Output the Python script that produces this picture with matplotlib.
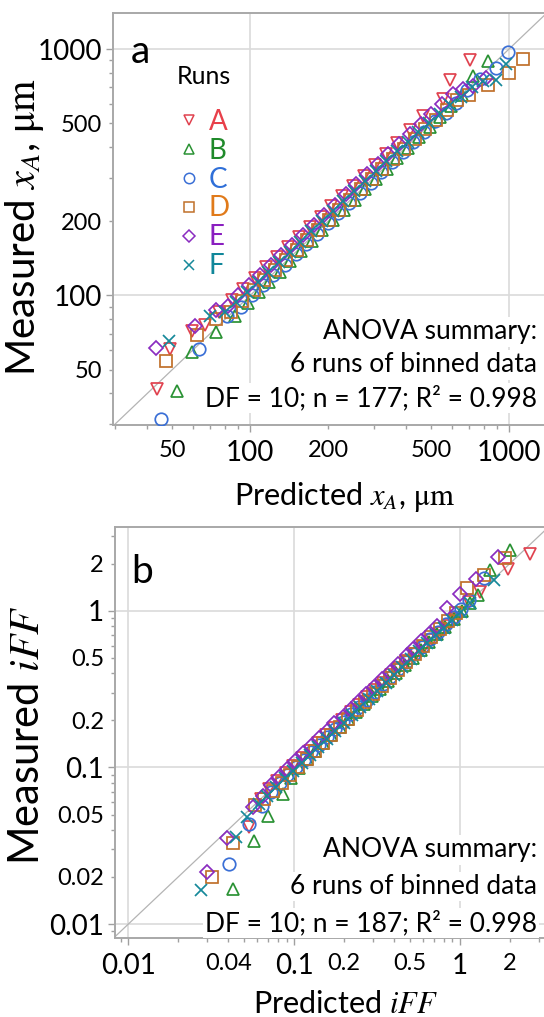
import matplotlib
matplotlib.use('Agg')
import matplotlib.pyplot as plt
from matplotlib.lines import Line2D
from matplotlib.ticker import FixedLocator, FuncFormatter

plt.rcParams['font.family'] = ['Lato', 'DejaVu Sans']
plt.rcParams['mathtext.fontset'] = 'stix'

runs = ['A', 'B', 'C', 'D', 'E', 'F']
markers = ['v', '^', 'o', 's', 'D', 'x']
mark_colors = ['#e0424f', '#2a9234', '#3a6fd6', '#c0702a', '#8a2cc0', '#16899a']
text_colors = ['#e8404a', '#1f8a2a', '#2f6fd8', '#e07a1a', '#8a1fc0', '#10879a']

# panel a: predicted vs measured x_A (um)
a_pred = {
    'A': [43.6, 49.1, 59.8, 67, 76, 85, 94, 104, 115, 127, 140, 154, 170, 187, 206, 227, 250, 275, 303, 334, 368, 413, 465, 556, 590, 705],
    'B': [52.0, 59.7, 73.5, 87.0, 97.9, 108, 118, 130, 143, 157, 173, 190, 209, 230, 253, 278, 306, 337, 370, 407, 448, 493, 542, 596, 656, 726, 829],
    'C': [45.3, 63.2, 81.2, 92, 102, 112, 123, 136, 150, 165, 181, 199, 219, 241, 265, 292, 321, 353, 388, 427, 470, 517, 569, 626, 690, 770, 893, 991],
    'D': [47.3, 62.2, 73.9, 84, 93, 103, 113, 125, 137, 151, 166, 183, 201, 221, 243, 268, 295, 324, 357, 392, 432, 475, 522, 575, 632, 700, 829, 1000, 1132],
    'E': [43.3, 61.4, 73.9, 82, 90, 99, 109, 120, 132, 145, 160, 176, 193, 212, 234, 257, 283, 311, 342, 376, 414, 455, 501, 551, 606, 667, 726, 818],
    'F': [48.4, 69.7, 80, 88, 97, 107, 117, 129, 142, 156, 172, 189, 208, 229, 252, 277, 305, 335, 369, 406, 446, 491, 540, 594, 653, 719, 791, 893, 977],
}
a_meas = {
    'A': [41.9, 60.4, 71.7, 76, 86, 96, 106, 118, 130, 143, 157, 172, 190, 209, 230, 253, 278, 305, 338, 375, 415, 468, 537, 627, 751, 899],
    'B': [40.9, 58.9, 71.0, 82.4, 92.8, 103, 113, 125, 138, 152, 167, 184, 202, 222, 245, 270, 297, 327, 360, 397, 438, 483, 532, 588, 652, 774, 891],
    'C': [31.6, 60.4, 82.4, 90, 100, 110, 121, 133, 147, 162, 178, 196, 216, 237, 261, 287, 316, 347, 382, 420, 462, 508, 548, 604, 680, 757, 837, 968],
    'D': [54.2, 68.8, 80.0, 86, 95, 105, 115, 127, 139, 153, 168, 185, 203, 223, 245, 270, 296, 325, 358, 392, 431, 472, 517, 567, 622, 650, 716, 800, 914],
    'E': [61.4, 75.1, 87.0, 91, 100, 110, 121, 133, 146, 160, 176, 193, 212, 233, 257, 282, 310, 341, 374, 411, 452, 497, 546, 600, 658, 690, 705, 763],
    'F': [65.3, 82.4, 86, 94, 103, 113, 124, 137, 150, 165, 182, 200, 220, 241, 265, 291, 320, 350, 384, 420, 460, 503, 545, 590, 640, 700, 740, 751, 871],
}

# panel b: predicted vs measured iFF
b_pred = {
    'A': [0.0318, 0.0535, 0.063, 0.071, 0.079, 0.089, 0.099, 0.111, 0.124, 0.139, 0.156, 0.174, 0.195, 0.219, 0.245, 0.274, 0.307, 0.344, 0.385, 0.431, 0.483, 0.541, 0.605, 0.678, 0.759, 0.850, 0.952, 1.13, 1.33, 1.94, 2.66],
    'B': [0.0428, 0.0572, 0.0697, 0.0859, 0.096, 0.107, 0.120, 0.134, 0.150, 0.168, 0.188, 0.210, 0.235, 0.263, 0.295, 0.330, 0.370, 0.414, 0.464, 0.520, 0.582, 0.652, 0.730, 0.818, 0.916, 1.03, 1.15, 1.29, 1.52, 2.01],
    'C': [0.0404, 0.0535, 0.0637, 0.073, 0.082, 0.091, 0.102, 0.114, 0.127, 0.142, 0.158, 0.177, 0.197, 0.220, 0.246, 0.274, 0.306, 0.342, 0.381, 0.425, 0.475, 0.530, 0.591, 0.660, 0.737, 0.822, 0.918, 1.02, 1.14, 1.39],
    'D': [0.0318, 0.0428, 0.058, 0.066, 0.075, 0.084, 0.094, 0.106, 0.119, 0.133, 0.150, 0.168, 0.189, 0.212, 0.238, 0.267, 0.300, 0.337, 0.378, 0.424, 0.476, 0.534, 0.600, 0.673, 0.755, 0.848, 0.952, 1.10, 1.39, 1.88],
    'E': [0.0296, 0.0394, 0.0566, 0.065, 0.073, 0.081, 0.091, 0.101, 0.113, 0.126, 0.141, 0.157, 0.175, 0.196, 0.219, 0.244, 0.272, 0.304, 0.339, 0.378, 0.422, 0.479, 0.525, 0.586, 0.654, 0.730, 0.834, 1.0, 1.25, 1.71],
    'F': [0.0276, 0.0445, 0.0521, 0.061, 0.069, 0.078, 0.088, 0.099, 0.111, 0.125, 0.140, 0.158, 0.177, 0.199, 0.224, 0.251, 0.282, 0.317, 0.356, 0.400, 0.449, 0.504, 0.566, 0.636, 0.714, 0.802, 0.901, 1.01, 1.15, 1.60],
}
b_meas = {
    'A': [0.0113, 0.0419, 0.063, 0.073, 0.082, 0.092, 0.102, 0.115, 0.128, 0.143, 0.161, 0.179, 0.201, 0.225, 0.251, 0.280, 0.312, 0.348, 0.388, 0.432, 0.480, 0.533, 0.590, 0.655, 0.725, 0.805, 0.890, 1.14, 1.32, 1.86, 2.32],
    'B': [0.0167, 0.0341, 0.0491, 0.0678, 0.086, 0.099, 0.113, 0.128, 0.144, 0.162, 0.182, 0.203, 0.227, 0.254, 0.285, 0.319, 0.357, 0.400, 0.448, 0.502, 0.563, 0.630, 0.706, 0.792, 0.890, 1.00, 1.12, 1.27, 1.82, 2.44],
    'C': [0.0241, 0.0434, 0.0568, 0.070, 0.079, 0.089, 0.100, 0.112, 0.125, 0.140, 0.156, 0.175, 0.195, 0.218, 0.243, 0.271, 0.303, 0.339, 0.378, 0.422, 0.472, 0.527, 0.588, 0.657, 0.735, 0.820, 0.916, 1.03, 1.17, 1.63],
    'D': [0.0201, 0.0331, 0.0577, 0.063, 0.071, 0.080, 0.090, 0.101, 0.114, 0.128, 0.144, 0.162, 0.182, 0.205, 0.231, 0.260, 0.293, 0.330, 0.372, 0.419, 0.472, 0.532, 0.600, 0.676, 0.762, 0.860, 0.970, 1.39, 1.69, 2.16],
    'E': [0.0216, 0.0353, 0.0562, 0.0658, 0.077, 0.087, 0.098, 0.110, 0.123, 0.137, 0.153, 0.171, 0.191, 0.211, 0.236, 0.263, 0.294, 0.328, 0.366, 0.408, 0.456, 0.521, 0.572, 0.640, 0.715, 0.800, 1.04, 1.29, 1.59, 2.21],
    'F': [0.0166, 0.0362, 0.0485, 0.058, 0.066, 0.075, 0.085, 0.095, 0.107, 0.120, 0.135, 0.152, 0.171, 0.192, 0.216, 0.243, 0.273, 0.307, 0.345, 0.388, 0.436, 0.490, 0.551, 0.619, 0.696, 0.782, 0.879, 0.99, 1.12, 1.57],
}

a_major = [100, 1000]
a_minor_labels = [50, 200, 500]
b_major = [0.01, 0.1, 1]
b_xminor_labels = [0.04, 0.2, 0.5, 2]
b_yminor_labels = [0.02, 0.05, 0.2, 0.5, 2]

anova_a = ['ANOVA summary:', '6 runs of binned data', 'DF = 10; n = 177; R² = 0.998']
anova_b = ['ANOVA summary:', '6 runs of binned data', 'DF = 10; n = 187; R² = 0.998']

W, H = 544, 1017
fig = plt.figure(figsize=(W / 100, H / 100), dpi=100)


def px_axes(l, t, r, b):
    return fig.add_axes([l / W, 1 - b / H, (r - l) / W, (b - t) / H])


def minor_ticks(lo_exp, hi_exp):
    return [m * 10.0 ** e for e in range(lo_exp, hi_exp) for m in range(2, 10)]


def label_only(vals):
    def f(v, pos):
        for x in vals:
            if abs(v / x - 1) < 1e-6:
                return '%g' % x
        return ''
    return FuncFormatter(f)


def style_axes(ax, lim_x, lim_y, major, xlab, ylab, lo, hi):
    ax.set_xscale('log')
    ax.set_yscale('log')
    ax.set_xlim(*lim_x)
    ax.set_ylim(*lim_y)
    for axis, labs in ((ax.xaxis, xlab), (ax.yaxis, ylab)):
        axis.set_major_locator(FixedLocator(major))
        axis.set_major_formatter(FuncFormatter(lambda v, p: '%g' % v))
        axis.set_minor_locator(FixedLocator(minor_ticks(lo, hi)))
        axis.set_minor_formatter(label_only(labs))
    ax.tick_params(which='major', length=5, width=1, color='#a0a0a0', labelsize=20)
    ax.tick_params(which='minor', length=3, width=1, color='#a0a0a0', labelsize=17)
    ax.tick_params(axis='y', which='major', pad=3)
    ax.tick_params(axis='y', which='minor', pad=5)
    ax.tick_params(axis='x', which='major', pad=6)
    ax.tick_params(axis='x', which='minor', pad=8)
    for s in ('top', 'left', 'bottom', 'right'):
        ax.spines[s].set_color('#a8a8a8')
        ax.spines[s].set_linewidth(1.4)
    ax.grid(True, which='major', color='#dadada', lw=1.2)
    ax.set_axisbelow(True)
    ax.plot([1e-4, 1e5], [1e-4, 1e5], color='#b4b4b4', lw=0.9, zorder=2)


def draw_runs(ax, pred, meas):
    for r, m, c in zip(runs, markers, mark_colors):
        ms = 7.5 if m == 'D' else 9
        ax.plot(pred[r], meas[r], ls='none', marker=m, ms=ms, mfc='none', mec=c, mew=1.25, zorder=4)


# ---- panel a ----
ax1 = px_axes(113, 13, 550, 425)
style_axes(ax1, (29.5, 1440), (29.8, 1400), a_major, a_minor_labels, a_minor_labels, 1, 4)
draw_runs(ax1, a_pred, a_meas)
ax1.set_xlabel('Predicted $x_A$, $\\mathrm{\\mu m}$', fontsize=22)
ax1.xaxis.set_label_coords(0.529, -0.133)
ax1.set_ylabel('Measured $x_A$, $\\mathrm{\\mu m}$', fontsize=29)
ax1.yaxis.set_label_coords(-0.153, 0.48)
ax1.text(0.062, 0.905, 'a', transform=ax1.transAxes, fontsize=28, ha='center', va='center')

handles = [Line2D([], [], ls='none', marker=m, ms=(6 if m == 'D' else 7.5), mfc='none', mec=c, mew=1.1)
           for m, c in zip(markers, mark_colors)]
leg = ax1.legend(handles, runs, loc='center left', bbox_to_anchor=(178 / W, 1 - 194 / H),
                 bbox_transform=fig.transFigure, frameon=False, fontsize=20, handlelength=0.8,
                 handletextpad=0.3, labelspacing=0.105, borderpad=0, borderaxespad=0)
for t, c in zip(leg.get_texts(), text_colors):
    t.set_color(c)
fig.text(204 / W, 1 - 76 / H, 'Runs', fontsize=18, ha='center', va='center')

for i, line in enumerate(anova_a):
    fig.text(537 / W, 1 - (332 + 33 * i) / H, line, fontsize=19, ha='right', va='center', zorder=3,
             bbox=dict(facecolor='white', edgecolor='none', pad=1.5))

# ---- panel b ----
ax2 = px_axes(115, 527, 550, 938)
style_axes(ax2, (0.0083, 3.5), (0.00814, 3.43), b_major, b_xminor_labels, b_yminor_labels, -3, 1)
draw_runs(ax2, b_pred, b_meas)
ax2.set_xlabel('Predicted $iFF$', fontsize=22)
ax2.xaxis.set_label_coords(0.531, -0.127)
ax2.set_ylabel('Measured $iFF$', fontsize=30)
ax2.yaxis.set_label_coords(-0.159, 0.494)
ax2.text(0.062, 0.89, 'b', transform=ax2.transAxes, fontsize=28, ha='center', va='center')

for i, line in enumerate(anova_b):
    fig.text(537 / W, 1 - (850 + 36.5 * i) / H, line, fontsize=19, ha='right', va='center', zorder=3,
             bbox=dict(facecolor='white', edgecolor='none', pad=1.5))

fig.savefig('out.png', dpi=100)
